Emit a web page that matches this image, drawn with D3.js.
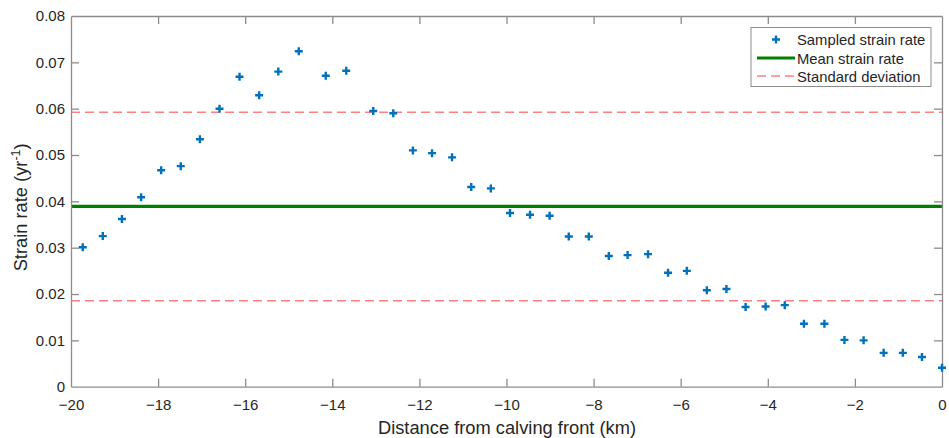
<!DOCTYPE html>
<html><head><meta charset="utf-8">
<script src="https://cdn.jsdelivr.net/npm/d3@7/dist/d3.min.js"></script>
<style>body{margin:0;background:#fff}svg{display:block}text{font-family:"Liberation Sans",Arial,sans-serif}</style>
</head><body>
<script>
const distance = [-19.73,-19.27,-18.83,-18.39,-17.93,-17.48,-17.04,-16.59,-16.13,-15.68,-15.24,-14.77,-14.15,-13.68,-13.06,-12.60,-12.15,-11.71,-11.25,-10.81,-10.36,-9.92,-9.46,-9.01,-8.57,-8.11,-7.65,-7.22,-6.75,-6.29,-5.86,-5.40,-4.95,-4.51,-4.05,-3.61,-3.17,-2.70,-2.24,-1.80,-1.34,-0.90,-0.46,0];
const strainRate = [0.0301,0.0325,0.0362,0.0409,0.0467,0.0476,0.0534,0.0600,0.0669,0.0629,0.0680,0.0724,0.0671,0.0682,0.0595,0.0590,0.0510,0.0504,0.0495,0.0431,0.0428,0.0375,0.0371,0.0369,0.0324,0.0324,0.0282,0.0284,0.0286,0.0246,0.0250,0.0208,0.0211,0.0172,0.0173,0.0176,0.0136,0.0136,0.0101,0.0100,0.0073,0.0073,0.0064,0.0041];
const meanRate = 0.0389;
const stdDev = 0.02035;
const xTicks = [-20,-18,-16,-14,-12,-10,-8,-6,-4,-2,0];
const yTicks = [0,0.01,0.02,0.03,0.04,0.05,0.06,0.07,0.08];
const legendLabels = ["Sampled strain rate","Mean strain rate","Standard deviation"];

const W=949,H=438;
const L=71,R=942,T=16,B=386.7;
const svg=d3.select("body").append("svg").attr("width",W).attr("height",H);
const x=d3.scaleLinear().domain([-20,0]).range([L,R]);
const y=d3.scaleLinear().domain([0,0.08]).range([B,T]);
const axisCol="#8c8c8c", txt="#262626", tl=8;

// mean & std lines
svg.append("line").attr("x1",x(-20)).attr("x2",x(0)).attr("y1",y(meanRate+stdDev)).attr("y2",y(meanRate+stdDev))
  .attr("stroke","#ff8080").attr("stroke-width",1.5).attr("stroke-dasharray","9,5");
svg.append("line").attr("x1",x(-20)).attr("x2",x(0)).attr("y1",y(meanRate-stdDev)).attr("y2",y(meanRate-stdDev))
  .attr("stroke","#ff8080").attr("stroke-width",1.5).attr("stroke-dasharray","9,5");
svg.append("line").attr("x1",x(-20)).attr("x2",x(0)).attr("y1",y(meanRate)).attr("y2",y(meanRate))
  .attr("stroke","#008000").attr("stroke-width",3.2);

// axes
const gx=svg.append("g").attr("transform",`translate(0,${B})`).call(d3.axisBottom(x).tickValues(xTicks).tickFormat(d3.format("d")).tickSizeInner(-tl).tickSizeOuter(0).tickPadding(13));
const gxt=svg.append("g").attr("transform",`translate(0,${T})`).call(d3.axisTop(x).tickValues(xTicks).tickFormat("").tickSizeInner(-tl).tickSizeOuter(0));
const gy=svg.append("g").attr("transform",`translate(${L},0)`).call(d3.axisLeft(y).tickValues(yTicks).tickFormat(d=>d===0?"0":d3.format(".2f")(d)).tickSizeInner(-tl).tickSizeOuter(0).tickPadding(6));
const gyr=svg.append("g").attr("transform",`translate(${R},0)`).call(d3.axisRight(y).tickValues(yTicks).tickFormat("").tickSizeInner(-tl).tickSizeOuter(0));
[gx,gxt,gy,gyr].forEach(g=>{g.selectAll("path,line").attr("stroke",axisCol).attr("stroke-width",1.3);g.selectAll("text").attr("fill",txt).style("font-size","15px");});
gx.selectAll(".tick").filter(d=>d===-20||d===0).select("line").remove();
gxt.selectAll(".tick").filter(d=>d===-20||d===0).select("line").remove();
gy.selectAll(".tick").filter(d=>d===0||d===0.08).select("line").remove();
gyr.selectAll(".tick").filter(d=>d===0||d===0.08).select("line").remove();

// markers
const mk=svg.append("g");
distance.forEach((d,i)=>{
  const cx=x(d),cy=y(strainRate[i]),s=4;
  mk.append("path").attr("d",`M${cx-s},${cy}H${cx+s}M${cx},${cy-s}V${cy+s}`)
    .attr("stroke","#0072bd").attr("stroke-width",2.4).attr("fill","none");
});

// labels
svg.append("text").attr("x",(L+R)/2+0.5).attr("y",434).attr("text-anchor","middle").attr("fill",txt).style("font-size","18.3px").text("Distance from calving front (km)");
const yl=svg.append("text").attr("transform",`translate(27,${(T+B)/2+6}) rotate(-90)`).attr("text-anchor","middle").attr("fill",txt).style("font-size","18.3px");
yl.append("tspan").text("Strain rate (yr");
yl.append("tspan").attr("dy",-7).style("font-size","12.5px").text("-1");
yl.append("tspan").attr("dy",7).text(")");

// legend
const lg=svg.append("g");
lg.append("rect").attr("x",751).attr("y",27.5).attr("width",180).attr("height",59).attr("fill","#fff").attr("stroke","#8c8c8c").attr("stroke-width",1);
const ly=[39.5,58,76];
lg.append("path").attr("d",`M${776-4},${ly[0]}H${776+4}M776,${ly[0]-4}V${ly[0]+4}`).attr("stroke","#0072bd").attr("stroke-width",2.4);
lg.append("line").attr("x1",757).attr("x2",795).attr("y1",ly[1]).attr("y2",ly[1]).attr("stroke","#008000").attr("stroke-width",3.2);
lg.append("line").attr("x1",757).attr("x2",795).attr("y1",ly[2]).attr("y2",ly[2]).attr("stroke","#ff8080").attr("stroke-width",1.5).attr("stroke-dasharray","9,5");
legendLabels.forEach((t,i)=>lg.append("text").attr("x",797).attr("y",ly[i]+5.5).attr("fill",txt).style("font-size","14.8px").text(t));
</script>
</body></html>
